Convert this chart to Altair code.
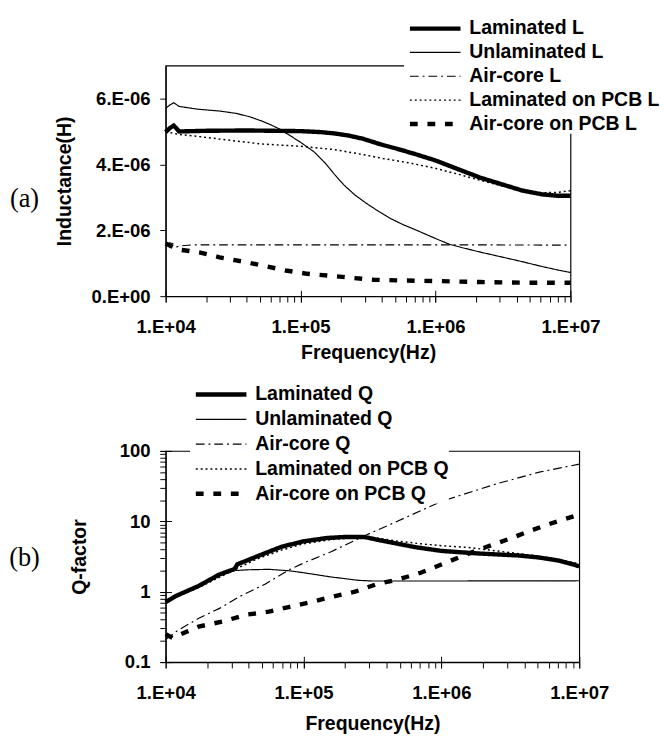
import altair as alt
import pandas as pd

# ---------------- data ----------------
# frequencies are given as log10(Hz) positions
L_names = ["Laminated L", "Unlaminated L", "Air-core L", "Laminated on PCB L", "Air-core on PCB L"]
Q_names = ["Laminated Q", "Unlaminated Q", "Air-core Q", "Laminated on PCB Q", "Air-core on PCB Q"]

# Inductance in microhenry
lam_L_f = [4.0, 4.03, 4.06, 4.1, 4.3, 4.6, 5.0, 5.15, 5.25, 5.35, 5.46, 5.6, 5.71, 5.86, 6.0, 6.17, 6.33, 6.48, 6.64, 6.79, 6.9, 7.0]
lam_L_v = [4.98, 5.1, 5.18, 5.0, 5.02, 5.03, 5.01, 4.98, 4.94, 4.88, 4.78, 4.6, 4.48, 4.3, 4.12, 3.85, 3.6, 3.41, 3.21, 3.09, 3.05, 3.05]

unl_L_f = [4.0, 4.03, 4.06, 4.1, 4.23, 4.4, 4.52, 4.62, 4.71, 4.78, 4.85, 4.92, 5.0, 5.1, 5.18, 5.25, 5.32, 5.4, 5.49, 5.58, 5.66, 5.76, 5.86, 6.0, 6.1, 6.2, 6.35, 6.48, 6.64, 6.79, 6.9, 7.0]
unl_L_v = [5.7, 5.8, 5.87, 5.76, 5.68, 5.62, 5.55, 5.45, 5.32, 5.2, 5.06, 4.88, 4.67, 4.38, 4.05, 3.7, 3.38, 3.08, 2.81, 2.57, 2.37, 2.17, 2.0, 1.75, 1.58, 1.47, 1.32, 1.2, 1.05, 0.9, 0.8, 0.72]

air_L_f = [4.0, 4.03, 4.05, 4.08, 4.12, 4.2, 5.0, 6.0, 7.0]
air_L_v = [1.55, 1.62, 1.6, 1.5, 1.53, 1.56, 1.56, 1.56, 1.55]

lpcb_L_f = [4.0, 4.05, 4.1, 4.3, 4.5, 4.71, 5.0, 5.25, 5.46, 5.61, 5.8, 6.0, 6.17, 6.33, 6.48, 6.64, 6.79, 6.9, 7.0]
lpcb_L_v = [5.0, 4.95, 4.91, 4.82, 4.72, 4.62, 4.55, 4.45, 4.3, 4.18, 4.05, 3.88, 3.7, 3.52, 3.36, 3.22, 3.14, 3.15, 3.2]

apcb_L_f = [4.0, 4.05, 4.09, 4.25, 4.4, 4.56, 4.73, 4.89, 5.05, 5.22, 5.37, 5.54, 5.71, 6.0, 6.33, 6.64, 7.0]
apcb_L_v = [1.6, 1.5, 1.42, 1.33, 1.18, 1.06, 0.92, 0.78, 0.68, 0.62, 0.56, 0.5, 0.48, 0.46, 0.43, 0.41, 0.41]

# Q-factor
lam_Q_f = [4.0, 4.08, 4.24, 4.39, 4.5, 4.52, 4.66, 4.84, 5.0, 5.17, 5.3, 5.44, 5.55, 5.66, 5.81, 6.0, 6.26, 6.56, 6.71, 6.86, 7.0]
lam_Q_v = [0.71, 0.88, 1.21, 1.76, 2.1, 2.45, 3.16, 4.35, 5.2, 5.8, 6.0, 6.0, 5.4, 4.9, 4.3, 3.8, 3.5, 3.27, 3.06, 2.75, 2.3]

unl_Q_f = [4.0, 4.08, 4.24, 4.39, 4.5, 4.6, 4.75, 4.9, 5.0, 5.2, 5.4, 5.5, 6.0, 7.0]
unl_Q_v = [0.71, 0.88, 1.2, 1.7, 2.0, 2.05, 2.08, 1.98, 1.86, 1.62, 1.45, 1.42, 1.42, 1.43]

air_Q_f = [4.0, 4.08, 4.24, 4.39, 4.54, 4.72, 4.9, 5.0, 5.2, 5.44, 5.66, 6.0, 6.26, 6.41, 6.71, 7.0]
air_Q_v = [0.21, 0.275, 0.42, 0.58, 0.86, 1.28, 2.07, 2.55, 3.7, 6.2, 9.6, 19.2, 27.9, 34.5, 50, 65]

lpcb_Q_f = [4.0, 4.08, 4.24, 4.39, 4.52, 4.66, 4.84, 5.0, 5.2, 5.4, 5.5, 5.66, 5.85, 6.0, 6.2, 6.4, 6.6, 6.8, 7.0]
lpcb_Q_v = [0.7, 0.85, 1.15, 1.6, 2.15, 2.9, 3.9, 4.8, 5.5, 5.9, 5.9, 5.3, 4.8, 4.5, 4.25, 3.8, 3.4, 3.0, 2.5]

apcb_Q_f = [4.0, 4.05, 4.08, 4.24, 4.42, 4.58, 4.75, 4.9, 5.05, 5.2, 5.38, 5.53, 5.69, 5.85, 6.01, 6.17, 6.33, 6.5, 6.65, 6.8, 7.0]
apcb_Q_v = [0.25, 0.22, 0.235, 0.32, 0.38, 0.47, 0.52, 0.61, 0.71, 0.84, 1.01, 1.28, 1.5, 1.86, 2.48, 3.33, 4.35, 5.7, 7.4, 9.4, 12.5]

# tick positions
x_ticks_all = [m * 10 ** k for k in (4, 5, 6) for m in range(1, 10)] + [10 ** 7]
x_ticks_major = [10 ** 4, 10 ** 5, 10 ** 6, 10 ** 7]
yL_ticks = [0, 2e-6, 4e-6, 6e-6]
yQ_ticks_all = [0.1, 0.2, 0.3, 0.4, 0.5, 0.6, 0.7, 0.8, 0.9,
                1, 2, 3, 4, 5, 6, 7, 8, 9,
                10, 20, 30, 40, 50, 60, 70, 80, 90, 100]
yQ_ticks_major = [0.1, 1, 10, 100]

# line styles, in series order
dashes = [[1, 0], [1, 0], [9, 4, 2, 4], [2, 3], [8, 10]]
widths = [4.5, 1.2, 1.2, 1.5, 4.5]


def frame(name, logf, vals, scale):
    return pd.DataFrame({
        "series": name,
        "f": [10 ** v for v in logf],
        "v": [x * scale for x in vals],
    })


dfL = pd.concat([
    frame(L_names[0], lam_L_f, lam_L_v, 1e-6),
    frame(L_names[1], unl_L_f, unl_L_v, 1e-6),
    frame(L_names[2], air_L_f, air_L_v, 1e-6),
    frame(L_names[3], lpcb_L_f, lpcb_L_v, 1e-6),
    frame(L_names[4], apcb_L_f, apcb_L_v, 1e-6),
], ignore_index=True)

dfQ = pd.concat([
    frame(Q_names[0], lam_Q_f, lam_Q_v, 1.0),
    frame(Q_names[1], unl_Q_f, unl_Q_v, 1.0),
    frame(Q_names[2], air_Q_f, air_Q_v, 1.0),
    frame(Q_names[3], lpcb_Q_f, lpcb_Q_v, 1.0),
    frame(Q_names[4], apcb_Q_f, apcb_Q_v, 1.0),
], ignore_index=True)


def width_expr(names, ref):
    parts = [f"{ref} == '{n}' ? {w}" for n, w in zip(names, widths)]
    return " : ".join(parts) + " : 1.2"


FONT = "Liberation Sans"
x_label_expr = ("indexof([10000,100000,1000000,10000000], datum.value) >= 0 ? "
                "'1.E+0' + round(log(datum.value)/LN10) : ''")


def x_main_axis(tpad):
    return alt.Axis(values=x_ticks_all, labelExpr=x_label_expr, title="Frequency(Hz)",
                    tickSize=6, labelPadding=16, titlePadding=tpad, labelOverlap=False,
                    labelFlush=False, grid=False, orient="bottom")


def x_cross_axis():
    return alt.Axis(values=x_ticks_major, labels=False, domain=False, title=None,
                    tickSize=12, offset=-6, grid=False, orient="bottom")


def legend(names, x, y, rowpad):
    return alt.Legend(orient="none", legendX=x, legendY=y, title=None,
                      symbolType="M-1,0H12", symbolSize=64, labelOffset=47,
                      labelFont=FONT, labelFontWeight="bold", labelFontSize=20,
                      labelColor="black", rowPadding=rowpad, padding=0,
                      fillColor="white", symbolStrokeColor="black", labelLimit=400,
                      symbolStrokeWidth=alt.expr(width_expr(names, "datum.value")))


# ---------------- panel (a) ----------------
xscaleL = alt.Scale(type="log", domain=[1e4, 1e7], nice=False)
yscaleL = alt.Scale(domain=[0, 7e-6], nice=False, zero=True)
linesL = alt.Chart(dfL).mark_line(
    color="black", strokeWidth=alt.expr(width_expr(L_names, "datum.series"))
).encode(
    x=alt.X("f:Q", scale=xscaleL, axis=x_main_axis(7)),
    y=alt.Y("v:Q", scale=yscaleL,
            axis=alt.Axis(values=yL_ticks, title="Inductance(H)", tickSize=6,
                          labelPadding=10, titlePadding=17, grid=False, orient="left",
                          labelExpr="datum.value == 0 ? '0.E+00' : format(datum.value*1e6, '.0f') + '.E-06'")),
    strokeDash=alt.StrokeDash("series:N", scale=alt.Scale(domain=L_names, range=dashes),
                              legend=legend(L_names, 245, -48, 4.5)),
)
crossL = alt.Chart(dfL).mark_point(opacity=0).encode(
    x=alt.X("f:Q", scale=xscaleL, axis=x_cross_axis()),
    y=alt.Y("v:Q", scale=yscaleL, axis=None),
)
labA = alt.Chart(pd.DataFrame({"t": ["(a)"]})).mark_text(
    font="Liberation Serif", fontSize=27, align="center", baseline="middle", color="black"
).encode(text="t:N", x=alt.value(-145), y=alt.value(137))

top = alt.layer(linesL, crossL, labA).resolve_axis(x="independent", y="independent").properties(width=416, height=237)

# ---------------- panel (b) ----------------
xscaleQ = alt.Scale(type="log", domain=[1e4, 1e7], nice=False)
yscaleQ = alt.Scale(type="log", domain=[0.1, 100], nice=False)
linesQ = alt.Chart(dfQ).mark_line(
    color="black", strokeWidth=alt.expr(width_expr(Q_names, "datum.series"))
).encode(
    x=alt.X("f:Q", scale=xscaleQ, axis=x_main_axis(12)),
    y=alt.Y("v:Q", scale=yscaleQ,
            axis=alt.Axis(values=yQ_ticks_all, title="Q-factor", tickSize=6, orient="left",
                          labelPadding=10, titlePadding=31, grid=False, labelOverlap=False,
                          labelExpr="indexof([0.1,1,10,100], datum.value) >= 0 ? (datum.value < 1 ? '0.1' : format(datum.value, 'd')) : ''")),
    strokeDash=alt.StrokeDash("series:N", scale=alt.Scale(domain=Q_names, range=dashes),
                              legend=legend(Q_names, 25, -68, 5.5)),
)
crossQ = alt.Chart(dfQ).mark_point(opacity=0).encode(
    x=alt.X("f:Q", scale=xscaleQ, axis=x_cross_axis()),
    y=alt.Y("v:Q", scale=yscaleQ,
            axis=alt.Axis(values=yQ_ticks_major, labels=False, domain=False, title=None,
                          tickSize=12, offset=-6, grid=False, orient="left")),
)
labB = alt.Chart(pd.DataFrame({"t": ["(b)"]})).mark_text(
    font="Liberation Serif", fontSize=27, align="center", baseline="middle", color="black"
).encode(text="t:N", x=alt.value(-145), y=alt.value(110))

bottom = alt.layer(linesQ, crossQ, labB).resolve_axis(x="independent", y="independent").properties(width=425, height=217)

chart = alt.vconcat(top, bottom, spacing=21).resolve_scale(
    strokeDash="independent"
).resolve_legend(
    strokeDash="independent"
).properties(
    padding={"left": 0, "top": 0, "right": 0, "bottom": 0}, background="white"
).configure_view(stroke="black", strokeWidth=1.2).configure_axis(
    labelFont=FONT, labelFontWeight="bold", labelFontSize=19, labelColor="black",
    titleFont=FONT, titleFontWeight="bold", titleFontSize=20, titleColor="black",
    domainColor="black", domainWidth=1.2, tickColor="black", tickWidth=1,
)

chart.save("out.html", embed_options={"renderer": "svg", "actions": False})
